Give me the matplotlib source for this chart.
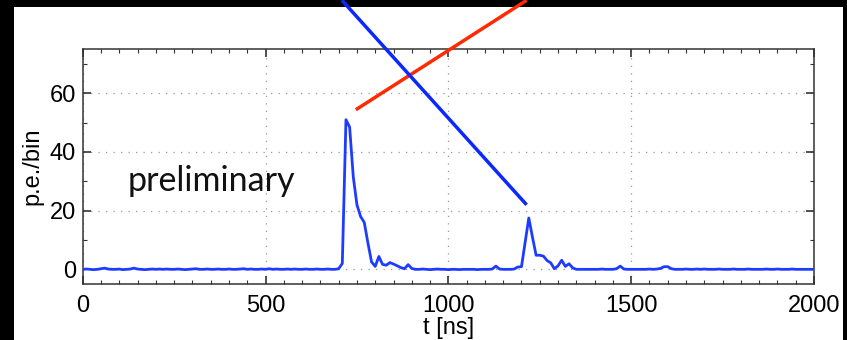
import matplotlib
matplotlib.use("Agg")
import matplotlib.pyplot as plt
from matplotlib.patches import Rectangle
from matplotlib.ticker import MultipleLocator

# waveform: 10 ns bins from 0 to 2000 ns
t_ns = list(range(0, 2010, 10))
pe_per_bin = [
    # 0-190
    0.0, 0.1, 0.0, -0.1, 0.0, 0.2, 0.4, 0.1, 0.0, 0.0,
    0.1, -0.1, 0.0, 0.1, 0.4, 0.1, 0.0, -0.1, 0.0, 0.1,
    # 200-390
    0.0, 0.1, 0.0, 0.1, 0.0, 0.0, 0.1, 0.0, -0.1, 0.0,
    0.1, 0.2, 0.0, 0.0, 0.1, 0.0, 0.0, 0.1, 0.0, 0.0,
    # 400-590
    0.1, 0.0, 0.0, 0.1, 0.2, 0.0, 0.1, 0.0, 0.0, 0.1,
    0.0, 0.2, 0.0, 0.1, 0.0, 0.0, 0.1, 0.0, 0.1, 0.0,
    # 600-690
    0.0, 0.1, 0.0, 0.0, 0.1, 0.0, 0.0, 0.1, 0.0, 0.0,
    # 700-790
    0.2, 2.0, 51.0, 48.5, 31.5, 22.0, 18.0, 16.0, 9.0, 2.5,
    # 800-890
    1.0, 4.4, 1.7, 1.4, 2.3, 1.8, 1.2, 0.6, 0.2, 1.6,
    # 900-990
    0.3, 0.0, 0.0, 0.1, 0.0, -0.1, 0.0, 0.1, 0.0, 0.0,
    # 1000-1090
    -0.1, 0.0, 0.0, -0.1, 0.0, 0.0, 0.0, 0.0, -0.1, 0.0,
    # 1100-1190
    0.0, 0.0, 0.1, 1.1, 0.1, 0.0, 0.0, 0.0, 0.1, 0.8,
    # 1200-1290
    0.9, 9.2, 17.5, 11.0, 4.8, 4.8, 4.5, 3.0, 2.2, 0.2,
    # 1300-1390
    1.2, 3.1, 1.0, 1.9, 0.5, 0.0, 0.0, 0.0, 0.0, 0.0,
    # 1400-1490
    0.0, 0.0, 0.1, 0.0, 0.0, 0.0, 0.2, 1.1, 0.1, 0.0,
    # 1500-1590
    0.0, 0.0, 0.0, 0.0, 0.0, 0.1, 0.0, 0.1, 0.3, 0.9,
    # 1600-1690
    0.9, 0.2, 0.0, 0.0, 0.0, 0.1, 0.0, 0.0, 0.1, 0.0,
    # 1700-1790
    0.1, 0.0, 0.0, 0.0, 0.1, 0.0, 0.0, 0.0, 0.1, 0.0,
    # 1800-1890
    0.0, 0.0, 0.1, 0.0, 0.0, 0.0, 0.0, 0.1, 0.0, 0.0,
    # 1900-1990
    0.1, 0.0, 0.0, 0.0, 0.1, 0.0, 0.0, 0.0, 0.0, 0.0,
    # 2000
    0.0,
]

x_ticks = [0, 500, 1000, 1500, 2000]
y_ticks = [0, 20, 40, 60]

# annotation pointer lines (data coordinates, drawn outside axes)
red_ptr_x = [747, 1214]
red_ptr_y = [54.4, 91.7]
blue_ptr_x = [1214, 709]
blue_ptr_y = [22.0, 91.7]

W, H = 847, 340
fig = plt.figure(figsize=(W / 100, H / 100), dpi=100, facecolor="black")
fig.patches.append(Rectangle((14 / W, 0), (843 - 14) / W, (340 - 7) / H,
                             transform=fig.transFigure, facecolor="white",
                             edgecolor="none", zorder=-10))

ax = fig.add_axes([82.7 / W, 1 - 284 / H, (814 - 82.7) / W, (284 - 49.3) / H])
ax.set_facecolor("white")
ax.plot(t_ns, pe_per_bin, color="#1e3cff", lw=2.0, zorder=3)

ax.set_xlim(0, 2000)
ax.set_ylim(-5, 75)
ax.set_xticks(x_ticks)
ax.set_yticks(y_ticks)
ax.xaxis.set_minor_locator(MultipleLocator(50))
ax.yaxis.set_minor_locator(MultipleLocator(10))
ax.tick_params(which="both", direction="in", top=True, right=True,
               colors="#333333", labelcolor="black")
ax.tick_params(which="major", length=6, width=1.2, labelsize=17, pad=5)
ax.tick_params(which="minor", length=3, width=0.8)
ax.tick_params(axis="x", which="major", pad=8)
for lab in ax.get_xticklabels() + ax.get_yticklabels():
    lab.set_family("Liberation Sans")
ax.grid(True, which="major", color="#999999", linestyle=(0, (1, 5)), lw=0.9)
for s in ax.spines.values():
    s.set_color("#333333")
    s.set_linewidth(1.1)

ax.set_xlabel("t [ns]", family="Liberation Sans", fontsize=17, labelpad=0)
ax.set_ylabel("p.e./bin", family="Liberation Sans", fontsize=17, labelpad=4)

ax.text(124, 30, "preliminary", family="Lato", fontsize=24.5,
        fontweight="normal", ha="left", va="center", color="#111111")

ax.plot(red_ptr_x, red_ptr_y, color="#ff2a00", lw=2.5, clip_on=False,
        solid_capstyle="butt", zorder=5)
ax.plot(blue_ptr_x, blue_ptr_y, color="#0a28ff", lw=2.5, clip_on=False,
        solid_capstyle="butt", zorder=5)

fig.savefig("out.png", dpi=100, facecolor="black")
